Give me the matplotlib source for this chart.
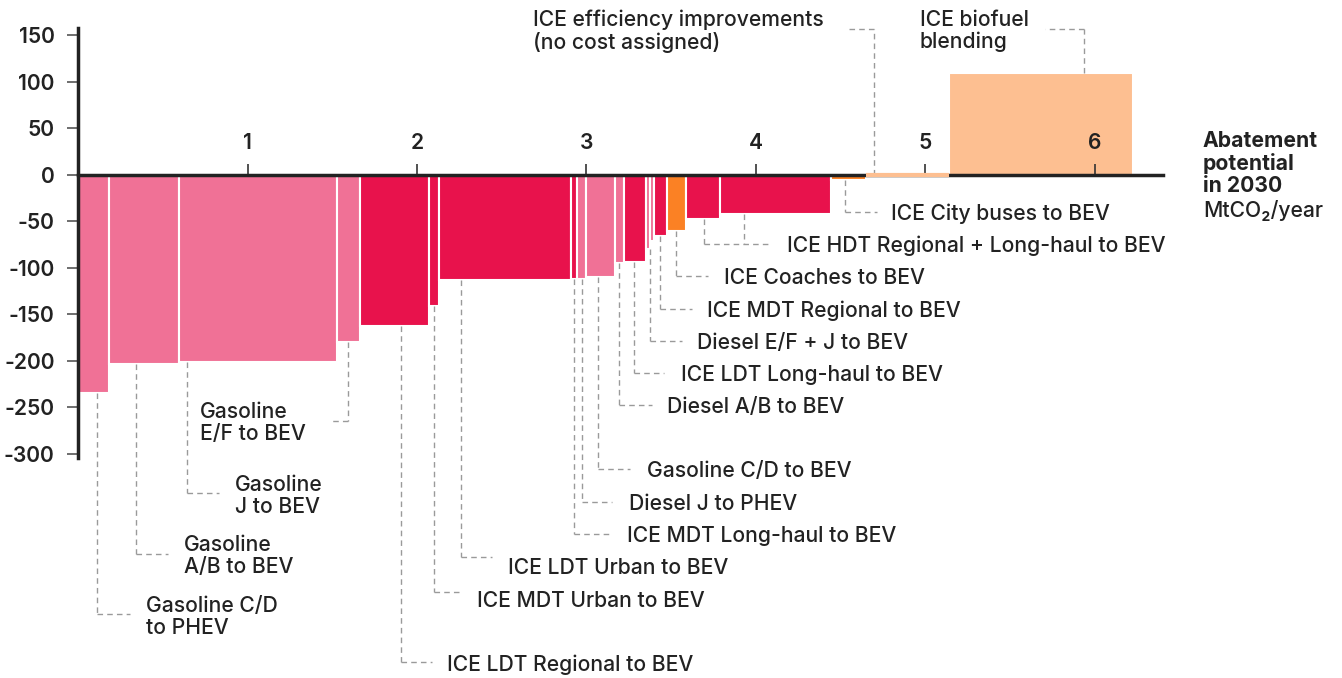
import numpy as np
import matplotlib.pyplot as plt

plt.rcParams['font.family'] = ['Inter', 'DejaVu Sans']
plt.rcParams['axes.unicode_minus'] = False

# Abatement potential (MtCO2/year) and cost of each measure
widths = [0.184, 0.411, 0.932, 0.136, 0.406, 0.059, 0.782, 0.033, 0.052, 0.171, 0.057,
          0.127, 0.022, 0.025, 0.080, 0.110, 0.204, 0.651, 0.210, 0.487, 1.089]
costs = [-234, -203, -201, -180, -162.5, -141.5, -113.5, -112, -112, -110, -94.5,
         -94, -80, -71, -65.5, -61, -47.5, -42.5, -6, 0, 109]
kinds = ['pink', 'pink', 'pink', 'pink', 'red', 'red', 'red', 'red', 'pink', 'pink', 'pink',
         'red', 'pink', 'pink', 'red', 'orange', 'red', 'red', 'orange', 'peach', 'peach']
palette = {'pink': '#F07196', 'red': '#E8124C', 'orange': '#FB8124', 'peach': '#FDBF91'}

labels = ["Gasoline C/D\nto PHEV", "Gasoline\nA/B to BEV", "Gasoline\nJ to BEV",
          "Gasoline\nE/F to BEV", "ICE LDT Regional to BEV", "ICE MDT Urban to BEV",
          "ICE LDT Urban to BEV", "ICE MDT Long-haul to BEV", "Diesel J to PHEV",
          "Gasoline C/D to BEV", "Diesel A/B to BEV", "ICE LDT Long-haul to BEV",
          "Diesel E/F + J to BEV", "ICE MDT Regional to BEV", "ICE Coaches to BEV",
          "ICE HDT Regional + Long-haul to BEV", "ICE City buses to BEV",
          "ICE efficiency improvements\n(no cost assigned)", "ICE biofuel\nblending"]
label_bars = [[0], [1], [2], [3], [4], [5], [6], [7], [8], [9], [10], [11], [12], [14], [15],
              [16, 17], [18], [19], [20]]

# layout of the callouts, in pixels of the 1342x678 canvas
leader_px = [[97], [136], [187], [348], [401], [434], [461], [574], [582], [598], [619], [634],
             [650], [660], [676], [704, 744], [845], [874], [1084]]
elbow_y = [614, 554, 493, 421, 662, 592, 557, 534, 502, 469, 405, 373, 341, 309, 276, 244, 212, 29, 29]
elbow_x = [130, 168, 219, 329, 432, 461, 492, 610, 612, 630, 652, 664, 682, 692, 708, 771, 877, 845, 1045]
text_x = [146, 184, 235, 200, 447, 477, 508, 627, 629, 647, 667, 681, 697, 707, 724, 787, 891, 533, 920]
text_y = [617, 556, 496, 423, 665, 601, 568, 536, 504, 471, 407, 375, 343, 311, 278, 246, 214, 31, 31]

W, H = 1342, 678
X0, XS = 78.3, 169.4
Y0, YS = 174.7, 0.931
FS = 15.2


def px_x(p):
    return (p - X0) / XS


def px_y(p):
    return (Y0 - p) / YS


fig = plt.figure(figsize=(W / 100, H / 100), dpi=100)
ax = fig.add_axes([0, 0, 1, 1])
ax.set_xlim(px_x(0), px_x(W))
ax.set_ylim(px_y(H), px_y(0))

lefts = np.concatenate([[0], np.cumsum(widths)[:-1]])
colors = [palette[k] for k in kinds]
edges = ['white' if c != 0 else palette[k] for c, k in zip(costs, kinds)]
lws = [1.5 if c != 0 else 3 for c in costs]
bars = ax.bar(lefts, costs, width=widths, align='edge', color=colors,
              edgecolor=edges, linewidth=lws, zorder=1)
for b, c in zip(bars, costs):
    if c == 0:
        b.set_zorder(3)

# callouts
dash = dict(color='#9a9a9a', lw=1, ls=(0, (4, 3)), zorder=2)
for i, txt in enumerate(labels):
    ey = px_y(elbow_y[i])
    xs = [px_x(p) for p in leader_px[i]]
    for b, lx in zip(label_bars[i], xs):
        ax.plot([lx, lx], [costs[b], ey], **dash)
    near = min(xs) if elbow_x[i] > min(xs) else max(xs)
    ax.plot([near, px_x(elbow_x[i])], [ey, ey], **dash)
    ax.text(px_x(text_x[i]), px_y(text_y[i]), txt, ha='left', va='center',
            fontsize=FS, fontweight='medium', color='#222222', linespacing=1.12)

# axes styling
for s in ['top', 'right']:
    ax.spines[s].set_visible(False)
ax.spines['bottom'].set_position(('data', 0))
ax.spines['left'].set_position(('data', 0))
ax.spines['bottom'].set_bounds(0, px_x(1163))
ax.spines['left'].set_bounds(px_y(458), px_y(28))
for s in ['bottom', 'left']:
    ax.spines[s].set_linewidth(2.5)
    ax.spines[s].set_color('#222222')
    ax.spines[s].set_zorder(2.5)

ax.set_xticks([1, 2, 3, 4, 5, 6])
ax.set_yticks(range(-300, 151, 50))
ax.tick_params(axis='x', direction='in', length=8, width=1.2, color='#333333',
               pad=-30, labelsize=FS, labelcolor='#222222')
ax.tick_params(axis='y', direction='out', length=8, width=1.2, color='#555555',
               pad=9, labelsize=FS, labelcolor='#222222')
for t in ax.get_xticklabels() + ax.get_yticklabels():
    t.set_fontweight('semibold')

ax.text(px_x(1203), px_y(163.5), "Abatement\npotential\nin 2030", ha='left', va='center',
        fontsize=FS, fontweight='bold', color='#222222', linespacing=1.12)
ax.text(px_x(1203), px_y(211), "MtCO\u2082/year", ha='left', va='center',
        fontsize=FS, fontweight='medium', color='#222222')

fig.savefig("out.png", dpi=100)
